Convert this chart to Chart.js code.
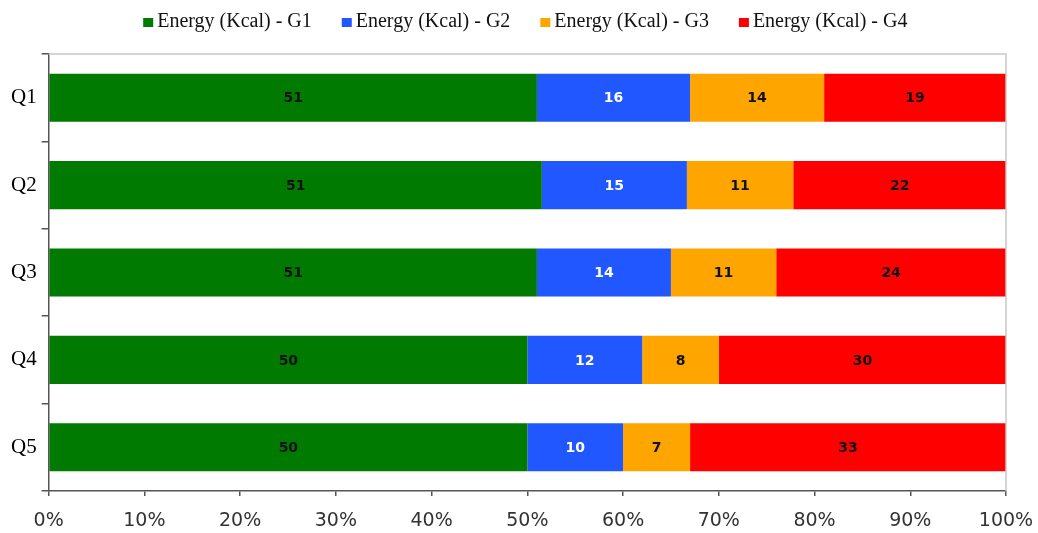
<!DOCTYPE html>
<html>
<head>
<meta charset="utf-8">
<script src="https://cdn.jsdelivr.net/npm/chart.js@4/dist/chart.umd.min.js"></script>
<style>
  html, body { margin: 0; padding: 0; background: #ffffff; }
  #wrap { width: 1038px; height: 533px; }
</style>
</head>
<body>
<div id="wrap"><canvas id="chart" width="1038" height="533"></canvas></div>
<script>
// Share of energy intake (Kcal) per group, for each quintile
const categories = ['Q1', 'Q2', 'Q3', 'Q4', 'Q5'];
const seriesNames = ['Energy (Kcal) - G1', 'Energy (Kcal) - G2', 'Energy (Kcal) - G3', 'Energy (Kcal) - G4'];
const g1 = [51, 51, 51, 50, 50];
const g2 = [16, 15, 14, 12, 10];
const g3 = [14, 11, 11, 8, 7];
const g4 = [19, 22, 24, 30, 33];
const xTickLabels = ['0%', '10%', '20%', '30%', '40%', '50%', '60%', '70%', '80%', '90%', '100%'];

const colors = ['#007a00', '#2157ff', '#ffa500', '#ff0000'];
const labelColors = ['#111111', '#ffffff', '#111111', '#111111'];

const groups = [g1, g2, g3, g4];
// each bar is stacked to 100%: every value as a share of its quintile total
const totals = categories.map((_, i) => groups.reduce((s, g) => s + g[i], 0));
const datasets = groups.map((g, k) => ({
  label: seriesNames[k],
  data: g.map((v, i) => v / totals[i] * 100),
  raw: g,
  backgroundColor: colors[k],
  borderWidth: 0,
  categoryPercentage: 1.0,
  barPercentage: 0.55
}));

// value written in the middle of each segment
const segmentLabels = {
  id: 'segmentLabels',
  afterDatasetsDraw(chart) {
    const ctx = chart.ctx;
    ctx.save();
    ctx.font = 'bold 14px "DejaVu Sans", sans-serif';
    ctx.textAlign = 'center';
    ctx.textBaseline = 'middle';
    chart.data.datasets.forEach((ds, k) => {
      const meta = chart.getDatasetMeta(k);
      meta.data.forEach((bar, i) => {
        const cx = (bar.x + bar.base) / 2;
        ctx.fillStyle = labelColors[k];
        ctx.fillText(String(ds.raw[i]), cx, bar.y + 1);
      });
    });
    ctx.restore();
  }
};

// light frame on the top and right of the plot area
const plotFrame = {
  id: 'plotFrame',
  afterDatasetsDraw(chart) {
    const a = chart.chartArea;
    const ctx = chart.ctx;
    ctx.save();
    ctx.strokeStyle = '#c8c8c8';
    ctx.lineWidth = 1.5;
    ctx.beginPath();
    ctx.moveTo(a.left, a.top);
    ctx.lineTo(a.right, a.top);
    ctx.lineTo(a.right, a.bottom);
    ctx.stroke();
    ctx.restore();
  }
};

// compact legend row above the plot: small square right against its text
const legendRow = {
  id: 'legendRow',
  afterDraw(chart) {
    const ctx = chart.ctx;
    const a = chart.chartArea;
    const box = 10, textGap = 4, itemGap = 30, baseline = 27;
    ctx.save();
    ctx.font = '20px "Liberation Serif", serif';
    ctx.textBaseline = 'alphabetic';
    ctx.textAlign = 'left';
    const widths = chart.data.datasets.map(ds => ctx.measureText(ds.label).width);
    const total = widths.reduce((s, w) => s + box + textGap + w, 0) + itemGap * (widths.length - 1);
    let x = (a.left + a.right) / 2 - 2 - total / 2;
    chart.data.datasets.forEach((ds, k) => {
      ctx.fillStyle = ds.backgroundColor;
      ctx.fillRect(x, baseline - 9, box, 9);
      ctx.fillStyle = '#111111';
      ctx.fillText(ds.label, x + box + textGap, baseline);
      x += box + textGap + widths[k] + itemGap;
    });
    ctx.restore();
  }
};

new Chart(document.getElementById('chart'), {
  type: 'bar',
  data: { labels: categories, datasets },
  plugins: [segmentLabels, plotFrame, legendRow],
  options: {
    indexAxis: 'y',
    responsive: false,
    animation: false,
    layout: { padding: { left: 6, right: 0, top: 54, bottom: 0 } },
    plugins: {
      tooltip: { enabled: false },
      legend: { display: false }
    },
    scales: {
      x: {
        stacked: true,
        min: 0,
        max: 100,
        afterBuildTicks(scale) {
          scale.ticks = xTickLabels.map((_, i) => ({ value: i * 10 }));
        },
        afterFit(scale) {
          scale.height = 42;
          scale.paddingRight = 32;
        },
        ticks: {
          callback: (v, i) => xTickLabels[i],
          color: '#333333',
          padding: 14,
          maxRotation: 0,
          font: { family: '"DejaVu Sans", sans-serif', size: 19 }
        },
        grid: { drawOnChartArea: false, tickLength: 5, color: '#555555', lineWidth: 1.5 },
        border: { color: '#555555', width: 1.5 }
      },
      y: {
        stacked: true,
        afterFit(scale) {
          scale.paddingTop = 0;
          scale.paddingBottom = 0;
        },
        ticks: {
          color: '#000000',
          padding: 5,
          font: { family: '"Liberation Serif", serif', size: 21 }
        },
        grid: { drawOnChartArea: false, tickLength: 7, color: '#555555', lineWidth: 1.5, offset: true },
        border: { color: '#555555', width: 1.5 }
      }
    }
  }
});
</script>
</body>
</html>
